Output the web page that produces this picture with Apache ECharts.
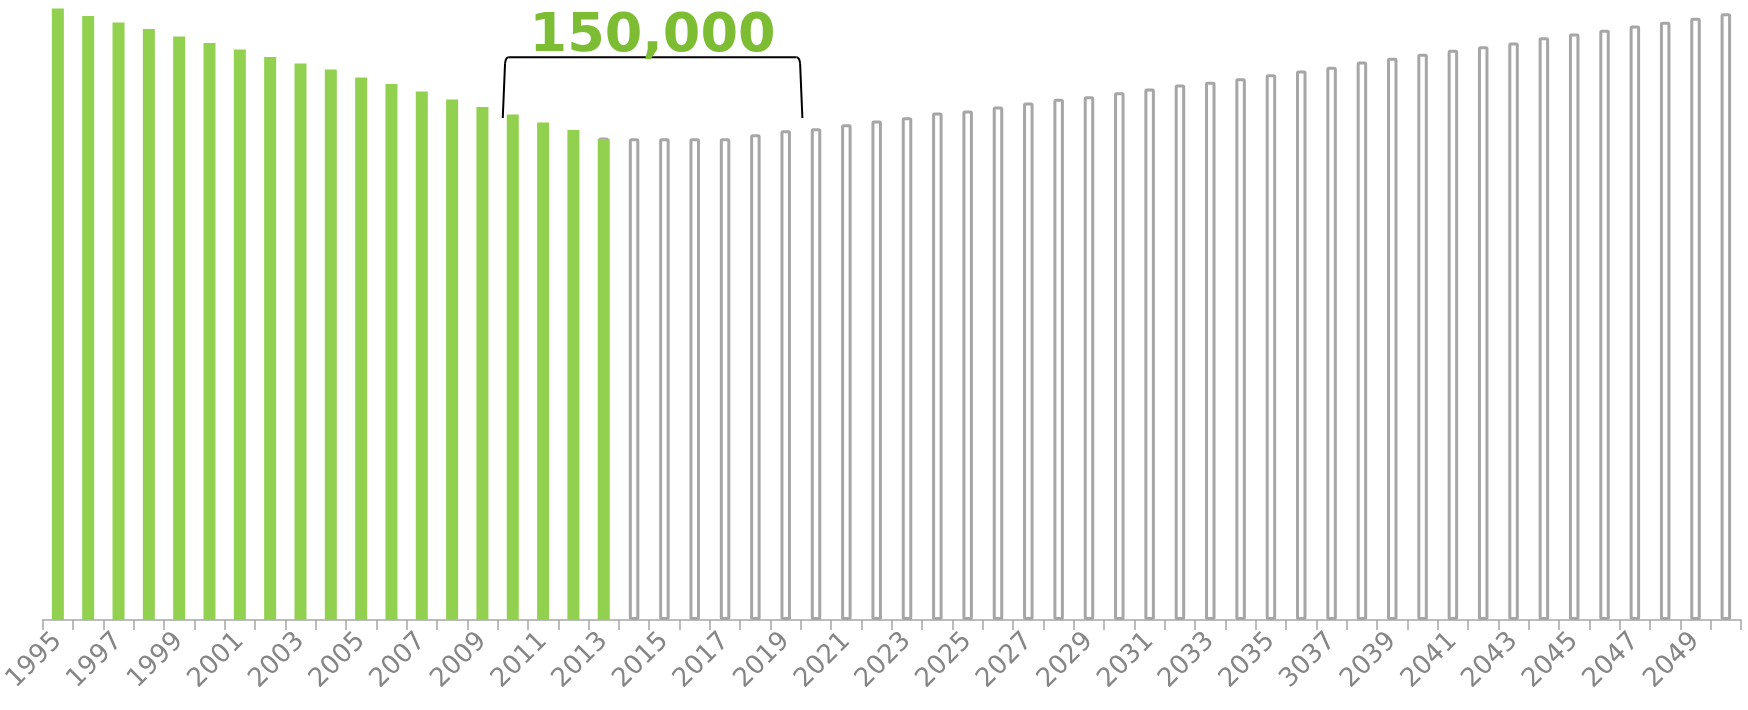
<!DOCTYPE html>
<html>
<head>
<meta charset="utf-8">
<script src="https://cdn.jsdelivr.net/npm/echarts@6/dist/echarts.min.js"></script>
<style>
html, body { margin: 0; padding: 0; background: #fff; }
#main { width: 1748px; height: 710px; }
</style>
</head>
<body>
<div id="main"></div>
<script>
// categories (the reference labels 2037 as "3037")
var years = ['1995', '1996', '1997', '1998', '1999', '2000', '2001', '2002', '2003', '2004',
    '2005', '2006', '2007', '2008', '2009', '2010', '2011', '2012', '2013', '2014',
    '2015', '2016', '2017', '2018', '2019', '2020', '2021', '2022', '2023', '2024',
    '2025', '2026', '2027', '2028', '2029', '2030', '2031', '2032', '2033', '2034',
    '2035', '2036', '3037', '2038', '2039', '2040', '2041', '2042', '2043', '2044',
    '2045', '2046', '2047', '2048', '2049', '2050'];

// green bars, 1995-2013 (thousands)
var actual = [3058, 3020, 2988, 2955, 2918, 2885, 2853, 2815, 2783, 2752,
    2713, 2680, 2643, 2603, 2565, 2527, 2488, 2450, 2405];

// gray outlined bars, 2013-2050
var forecastStart = 18;
var forecast = [2412, 2409, 2409, 2409, 2409, 2429, 2449, 2459, 2479, 2498,
    2514, 2538, 2548, 2568, 2588, 2606, 2619, 2639, 2658, 2678,
    2691, 2709, 2729, 2748, 2766, 2793, 2811, 2831, 2851, 2869,
    2888, 2914, 2933, 2951, 2973, 2991, 3011, 3034];

var bracketText = '150,000';

var forecastData = [];
for (var i = 0; i < years.length; i++) {
    var k = i - forecastStart;
    forecastData.push(k >= 0 && k < forecast.length ? forecast[k] : null);
}

var myChart = echarts.init(document.getElementById('main'));
myChart.setOption({
    animation: false,
    grid: { left: 42.7, right: 7, top: 0, bottom: 90, containLabel: false, outerBoundsMode: 'none' },
    xAxis: [{
        type: 'category',
        data: years,
        axisLine: { lineStyle: { color: '#a6a6a6', width: 1.5 } },
        axisTick: { show: true, interval: 0, length: 10, lineStyle: { color: '#a6a6a6', width: 1.5 } },
        axisLabel: {
            interval: 1,
            rotate: 45,
            margin: 17,
            color: '#858585',
            fontSize: 26,
            fontFamily: 'DejaVu Sans'
        }
    }, {
        type: 'category',
        data: years,
        show: false
    }],
    yAxis: { type: 'value', min: 0, max: 3100, show: false },
    series: [{
        type: 'bar',
        xAxisIndex: 1,
        data: forecastData,
        barWidth: 10.5,
        itemStyle: { color: '#fff', borderColor: '#a6a6a6', borderWidth: 3, borderRadius: 1 }
    }, {
        type: 'bar',
        xAxisIndex: 0,
        data: actual,
        barWidth: 12,
        itemStyle: { color: '#92d050' }
    }]
});

// bracket over 2010..2019
var p0 = myChart.convertToPixel({ xAxisIndex: 0 }, years[0]);
var step = myChart.convertToPixel({ xAxisIndex: 0 }, years[1]) - p0;
var L = p0 + 14.67 * step;
var R = p0 + 24.55 * step;
var yt = 57.3, yb = 118;
var lineStyle = { stroke: '#000', lineWidth: 2, fill: null };

myChart.setOption({
    graphic: [{
        type: 'line',
        shape: { x1: L, y1: yb, x2: L + 2.3, y2: yt + 6 },
        style: lineStyle
    }, {
        type: 'bezierCurve',
        shape: { x1: L + 2.3, y1: yt + 6, cpx1: L + 3, cpy1: yt, x2: L + 6, y2: yt },
        style: lineStyle
    }, {
        type: 'line',
        shape: { x1: L + 6, y1: yt, x2: R - 6, y2: yt },
        style: lineStyle
    }, {
        type: 'bezierCurve',
        shape: { x1: R - 6, y1: yt, cpx1: R - 3, cpy1: yt, x2: R - 2.3, y2: yt + 6 },
        style: lineStyle
    }, {
        type: 'line',
        shape: { x1: R - 2.3, y1: yt + 6, x2: R, y2: yb },
        style: lineStyle
    }, {
        type: 'text',
        x: (L + R) / 2,
        y: 37,
        style: {
            text: bracketText,
            font: 'bold 54px "DejaVu Sans"',
            fill: '#7cbd34',
            align: 'center',
            verticalAlign: 'middle'
        }
    }]
});
</script>
</body>
</html>
